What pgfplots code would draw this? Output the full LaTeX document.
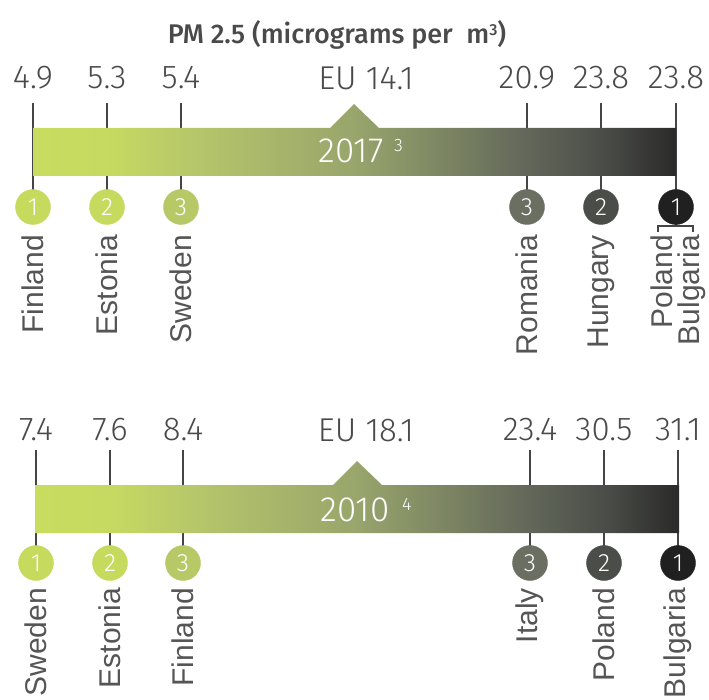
\documentclass[border=0pt]{standalone}
\usepackage{pgfplots}
\pgfplotsset{compat=1.18}
\usepackage{fontspec}
\setmainfont{Liberation Sans}
\newfontfamily\firalight{Fira Sans Light}
\newfontfamily\firamed{Fira Sans Medium}
\newcommand\valfont{\firalight\fontsize{33}{36}\selectfont}
\newcommand\yearfont{\firalight\fontsize{35}{38}\selectfont}
\newcommand\supfont{\firalight\fontsize{18}{20}\selectfont}
\newcommand\circfont{\firalight\fontsize{25}{26}\selectfont}
\newcommand\ctryfont{\fontsize{30}{33}\selectfont}
\definecolor{txt}{HTML}{4A4A4A}
\definecolor{ctry}{HTML}{555555}
\definecolor{tickc}{HTML}{454545}
\definecolor{cg1}{HTML}{C6DA5E}
\definecolor{cg3}{HTML}{B7C866}
\definecolor{cd3}{HTML}{6B6F62}
\definecolor{cd2}{HTML}{4B4E48}
\definecolor{cd1}{HTML}{202020}
\definecolor{g0}{HTML}{C8DC60}
\definecolor{g1}{HTML}{C6DA61}
\definecolor{g2}{HTML}{B6C66A}
\definecolor{g3}{HTML}{98A56C}
\definecolor{g4}{HTML}{62675A}
\definecolor{g5}{HTML}{4B4E48}
\definecolor{g6}{HTML}{2A2A2A}
\pgfdeclarehorizontalshading{barshade}{100bp}{color(0bp)=(g0); color(25bp)=(g0); color(30.8bp)=(g1); color(37.5bp)=(g2); color(50bp)=(g3); color(63.4bp)=(g4); color(69.2bp)=(g5); color(75bp)=(g6); color(100bp)=(g6)}
\pgfplotsset{circ/.style={only marks, mark=*, mark size=17.5pt, mark options={draw=#1, fill=#1},
  nodes near coords, point meta=explicit symbolic,
  every node near coord/.append style={anchor=center, text=white, font=\circfont}}}
\begin{document}
\begin{tikzpicture}
\begin{axis}[at={(0,0)}, anchor=south west, scale only axis, width=709pt, height=700pt,
  xmin=0, xmax=709, ymin=0, ymax=700, y dir=reverse, axis lines=none,
  xtick=\empty, ytick=\empty, clip=false]

% ---------- 2017 panel ----------
\addplot[draw=tickc, line width=1.4pt, unbounded coords=jump, mark=none] coordinates {
 (33,103) (33,207) (nan,nan) (107,103) (107,207) (nan,nan) (181,103) (181,207) (nan,nan)
 (527,103) (527,207) (nan,nan) (601,103) (601,207) (nan,nan) (676,103) (676,226) (nan,nan)
 (658,232) (658,226) (693,226) (693,232)};
\addplot[draw=none, shade, shading=barshade, mark=none] coordinates {
 (33,176) (33,128) (330,128) (354,104) (379,128) (676,128) (676,176)} -- cycle;
\addplot[only marks, mark=none, nodes near coords, point meta=explicit symbolic,
  every node near coord/.append style={anchor=center, text=txt, font=\valfont}] coordinates {
 (33,78)[4.9] (107,78)[5.3] (181,78)[5.4] (366,78)[EU 14.1] (527,78)[20.9] (601,78)[23.8] (676,78)[23.8]};
\addplot[circ=cg1] coordinates {(33,207)[1] (107,207)[2]};
\addplot[circ=cg3] coordinates {(181,207)[3]};
\addplot[circ=cd3] coordinates {(527,207)[3]};
\addplot[circ=cd2] coordinates {(601,207)[2]};
\addplot[circ=cd1] coordinates {(676,207)[1]};
\addplot[only marks, mark=none, nodes near coords, point meta=explicit symbolic,
  every node near coord/.append style={rotate=90, anchor=east, text=ctry, font=\ctryfont, inner sep=0pt}] coordinates {
 (33,235)[Finland] (107,235)[Estonia] (181,235)[Sweden] (527,235)[Romania] (601,235)[Hungary] (662,235)[Poland] (692,235)[Bulgaria]};
\node[anchor=base, text=white, font=\yearfont] at (axis cs:351,163) {2017};
\node[anchor=base west, text=white, font=\supfont, inner sep=0pt] at (axis cs:394,152) {3};
\node[anchor=base, text=txt, font=\firamed\fontsize{27}{30}\selectfont] at (axis cs:337,44) {PM 2.5 (micrograms per\ \ m\raisebox{0.6ex}{\fontsize{16}{17}\selectfont 3})};

% ---------- 2010 panel ----------
\addplot[draw=tickc, line width=1.4pt, unbounded coords=jump, mark=none] coordinates {
 (36,450) (36,563) (nan,nan) (110,450) (110,563) (nan,nan) (183,450) (183,563) (nan,nan)
 (530,450) (530,563) (nan,nan) (604,450) (604,563) (nan,nan) (678,450) (678,563)};
\addplot[draw=none, shade, shading=barshade, mark=none] coordinates {
 (35,533) (35,485) (333,485) (357,461) (382,485) (679,485) (679,533)} -- cycle;
\addplot[only marks, mark=none, nodes near coords, point meta=explicit symbolic,
  every node near coord/.append style={anchor=center, text=txt, font=\valfont}] coordinates {
 (36,430)[7.4] (110,430)[7.6] (183,430)[8.4] (366,430)[EU 18.1] (530,430)[23.4] (604,430)[30.5] (678,430)[31.1]};
\addplot[circ=cg1] coordinates {(36,563)[1] (110,563)[2]};
\addplot[circ=cg3] coordinates {(183,563)[3]};
\addplot[circ=cd3] coordinates {(530,563)[3]};
\addplot[circ=cd2] coordinates {(604,563)[2]};
\addplot[circ=cd1] coordinates {(678,563)[1]};
\addplot[only marks, mark=none, nodes near coords, point meta=explicit symbolic,
  every node near coord/.append style={rotate=90, anchor=east, text=ctry, font=\ctryfont, inner sep=0pt}] coordinates {
 (36,588)[Sweden] (110,588)[Estonia] (183,588)[Finland] (530,588)[Italy] (604,588)[Poland] (678,588)[Bulgaria]};
\node[anchor=base, text=white, font=\yearfont] at (axis cs:355,521) {2010};
\node[anchor=base west, text=white, font=\supfont, inner sep=0pt] at (axis cs:402,510) {4};
\end{axis}
\pgfresetboundingbox
\path (0,0) rectangle (709pt,700pt);
\end{tikzpicture}
\end{document}
